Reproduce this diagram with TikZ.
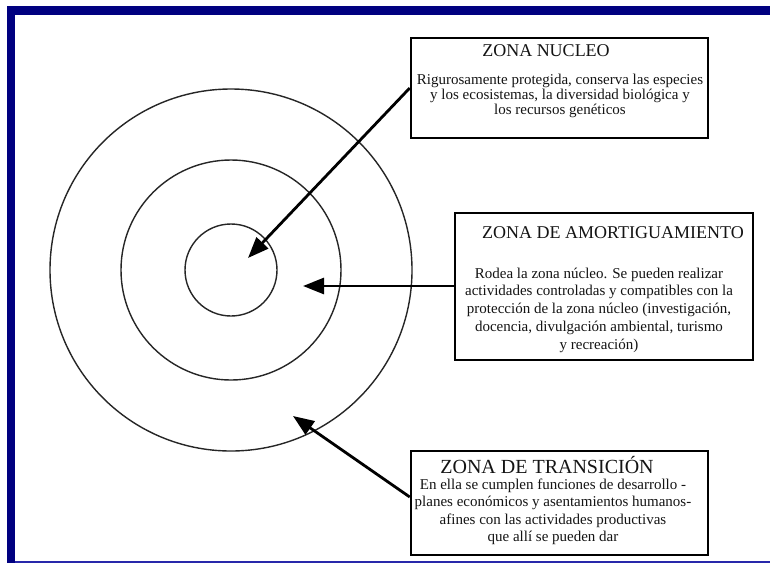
\documentclass[tikz,border=0pt]{standalone}
\usepackage{fontspec}
\setmainfont{Liberation Serif}
\usetikzlibrary{arrows.meta}
\definecolor{framenavy}{RGB}{0,0,128}
\definecolor{framelight}{RGB}{40,40,170}
\definecolor{inktext}{RGB}{20,20,20}
\begin{document}
\begin{tikzpicture}[x=1pt,y=-1pt,
  zonebox/.style={draw=black, line width=2.5pt, fill=white, inner sep=0pt},
  titletext/.style={font=\fontsize{18}{20}\selectfont, inner sep=0pt, text=inktext},
  bodytext/.style={align=center, inner sep=0pt, text=inktext},
  ring/.style={draw=black!85, line width=1.4pt},
  zonearrow/.style={-{Triangle[length=21pt,width=16pt]}, line width=2.8pt}]
  \useasboundingbox (0,0) rectangle (770,563);
  \fill[white] (0,0) rectangle (770,563);
  % frame
  \fill[framenavy] (7,6) rectangle (770,15);
  \fill[framenavy] (7,6) rectangle (15,563);
  \draw[framelight, line width=2pt] (15,561.5) -- (770,561.5);
  % rings
  \coordinate (c) at (231,270);
  \draw[ring] (c) circle[radius=46];
  \draw[ring] (c) circle[radius=110];
  \draw[ring] (c) circle[radius=181];
  % boxes
  \node[zonebox, minimum width=297pt, minimum height=100pt] (b1) at (559.5,88) {};
  \node[zonebox, minimum width=298pt, minimum height=147pt] (b2) at (604,286.5) {};
  \node[zonebox, minimum width=297pt, minimum height=104pt] (b3) at (559.5,503) {};
  % texts
  \node[titletext] (t1) at (546,51) {ZONA NUCLEO};
  \node[bodytext, font=\fontsize{15}{15}\selectfont] (d1) at (560,96)
    {Rigurosamente protegida, conserva las especies\\
     y los ecosistemas, la diversidad biológica y\\
     los recursos genéticos};
  \node[titletext] (t2) at (613,233) {ZONA DE AMORTIGUAMIENTO};
  \node[bodytext, font=\fontsize{15}{17.8}\selectfont] (d2) at (599,310)
    {Rodea la zona núcleo. Se pueden realizar\\
     actividades controladas y compatibles con la\\
     protección de la zona núcleo (investigación,\\
     docencia, divulgación ambiental, turismo\\
     y recreación)};
  \node[titletext, font=\fontsize{20}{22}\selectfont] (t3) at (547,465) {ZONA DE TRANSICIÓN};
  \node[bodytext, font=\fontsize{15}{17.5}\selectfont] (d3) at (553,512)
    {En ella se cumplen funciones de desarrollo -\\
     planes económicos y asentamientos humanos-\\
     afines con las actividades productivas\\
     que allí se pueden dar};
  % arrow tips
  \coordinate (p1) at (248,258);
  \coordinate (p2) at (303,286);
  \coordinate (p3) at (293,416);
  \draw[zonearrow] (b1.west) -- (p1);
  \draw[zonearrow] ([yshift=0.5pt]b2.west) -- (p2);
  \draw[zonearrow] ([yshift=6pt]b3.west) -- (p3);
\end{tikzpicture}
\end{document}
